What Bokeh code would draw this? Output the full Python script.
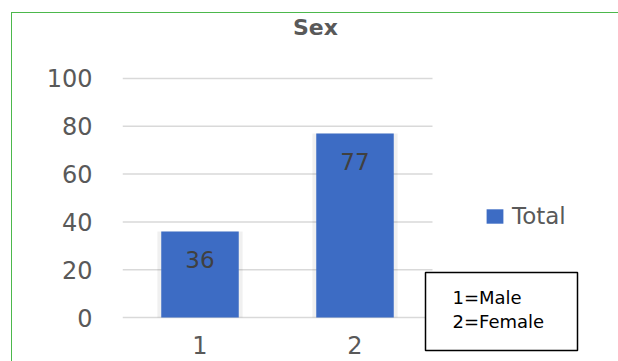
from bokeh.plotting import figure
from bokeh.models import (Range1d, FixedTicker, Legend, LegendItem,
                          Label, BoxAnnotation, InlineStyleSheet)
from bokeh.core.properties import value
from bokeh.embed import file_html
from bokeh.resources import INLINE

# ---- data ----
title_text = "Sex"
categories = ["1", "2"]
totals = [36, 77]
series_name = "Total"
y_ticks = [0, 20, 40, 60, 80, 100]
note_lines = ["1=Male", "2=Female"]

FONT = "DejaVu Sans"
GRAY = "#595959"
BAR = "#3d6cc4"

n = len(categories)
xpos = [i + 0.5 for i in range(n)]

p = figure(width=618, height=361, output_backend="svg", toolbar_location=None,
           x_range=Range1d(0, 3.2), y_range=Range1d(-18.4, 132.6),
           min_border_left=122, min_border_right=0,
           min_border_top=0, min_border_bottom=0)
p.outline_line_color = None
p.background_fill_color = "white"
p.border_fill_color = "white"

# horizontal gridlines, limited to the category band
p.segment(x0=[0] * len(y_ticks), x1=[n] * len(y_ticks), y0=y_ticks, y1=y_ticks,
          line_color="#d9d9d9", line_width=1.5)

# shadow + bars
p.vbar(x=xpos, top=totals, width=0.55, bottom=0, fill_color="black",
       fill_alpha=0.06, line_color=None)
bars = p.vbar(x=xpos, top=totals, width=0.5, bottom=0,
              fill_color=BAR, line_color=None)

# data labels
p.text(x=xpos, y=totals, text=[str(v) for v in totals],
       text_font=value(FONT), text_font_size="23px", text_color="#404040",
       text_align="center", text_baseline="middle", y_offset=28)

# axes
p.yaxis.ticker = FixedTicker(ticks=y_ticks)
p.yaxis.axis_line_color = None
p.yaxis.major_tick_line_color = None
p.yaxis.minor_tick_line_color = None
p.yaxis.major_tick_out = 0
p.yaxis.major_label_standoff = 30
p.yaxis.major_label_text_font = FONT
p.yaxis.major_label_text_font_size = "24px"
p.yaxis.major_label_text_color = GRAY
p.yaxis.bounds = (0, 100)

p.xaxis.fixed_location = 0
p.xaxis.ticker = FixedTicker(ticks=xpos)
p.xaxis.major_label_overrides = {x: c for x, c in zip(xpos, categories)}
p.xaxis.axis_line_color = None
p.xaxis.major_tick_line_color = None
p.xaxis.minor_tick_line_color = None
p.xaxis.major_tick_out = 0
p.xaxis.major_label_standoff = 18
p.xaxis.major_label_text_font = FONT
p.xaxis.major_label_text_font_size = "24px"
p.xaxis.major_label_text_color = GRAY

p.xgrid.grid_line_color = None
p.ygrid.grid_line_color = None

# legend
legend = Legend(items=[LegendItem(label=series_name, renderers=[bars])],
                location=(362, 132), orientation="vertical",
                glyph_width=21, glyph_height=18, label_standoff=7,
                label_text_font=FONT, label_text_font_size="23px",
                label_text_color=GRAY, padding=0, margin=0, spacing=0,
                border_line_color=None, background_fill_alpha=0)
p.add_layout(legend, "center")

# title
p.add_layout(Label(x=193, y=334, x_units="screen", y_units="screen",
                   text=title_text, text_font=FONT, text_font_size="22px",
                   text_font_style="bold", text_color=GRAY,
                   text_align="center", text_baseline="middle"))

# note box
p.add_layout(BoxAnnotation(left=303, right=455, top=89, bottom=11,
                           left_units="screen", right_units="screen",
                           top_units="screen", bottom_units="screen",
                           fill_color="white", fill_alpha=1,
                           line_color="black", line_alpha=1, line_width=1.5,
                           level="overlay"))
for i, line in enumerate(note_lines):
    p.add_layout(Label(x=330, y=64 - 24 * i, x_units="screen", y_units="screen",
                       text=line, text_font=FONT, text_font_size="18px",
                       text_color="black", text_align="left",
                       text_baseline="middle", level="overlay"))

# green chart-area border (top and left edges)
p.stylesheets = [InlineStyleSheet(css="""
:host { position: relative; }
:host::after {
  content: ''; position: absolute; left: 11px; top: 12px; right: 0; bottom: 0;
  border-top: 1.5px solid #4cb84c; border-left: 1.5px solid #4cb84c;
  pointer-events: none;
}
""")]

open("out.html", "w").write(file_html(p, INLINE))
